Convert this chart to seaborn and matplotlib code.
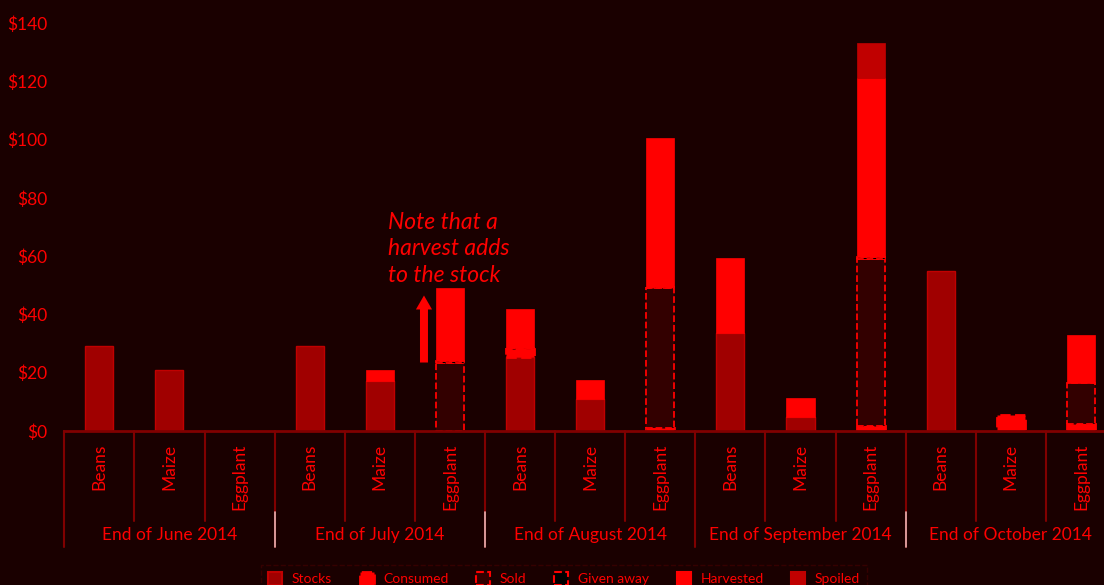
import numpy as np
import pandas as pd
import matplotlib.pyplot as plt
import seaborn as sns
from matplotlib.patches import Patch
from matplotlib.transforms import blended_transform_factory

# chart data (value in $ per crop, end of each month)
months = ["End of June 2014", "End of July 2014", "End of August 2014",
          "End of September 2014", "End of October 2014"]
crops = ["Beans", "Maize", "Eggplant"]

stocks = [29, 21, 0, 29, 17, 0, 25.5, 10.9, 0, 33.6, 4.9, 0, 55, 0, 0]
consumed = [0, 0, 0, 0, 0, 0, 2.6, 0, 1.2, 0, 0, 1.7, 0, 5.5, 2.4]
sold = [0, 0, 0, 0, 0, 23.2, 0, 0, 47.7, 0, 0, 57.2, 0, 0, 14.0]
given_away = [0, 0, 0, 0, 0, 0.7, 0.5, 0, 0.6, 0, 0, 0.9, 0, 0, 0]
harvested = [0, 0, 0, 0, 4, 25.2, 13.2, 6.6, 51, 25.8, 6.5, 61.4, 0, 0, 16.6]
spoiled = [0, 0, 0, 0, 0, 0, 0, 0, 0, 0, 0, 11.8, 0, 0, 0]

yticks = [0, 20, 40, 60, 80, 100, 120, 140]

BG = "#1a0000"
RED = "#ff0000"
AXIS = "#800000"

df = pd.DataFrame({
    "slot": np.arange(len(stocks)),
    "Stocks": stocks,
    "Consumed": consumed,
    "Sold": sold,
    "Given away": given_away,
    "Harvested": harvested,
    "Spoiled": spoiled,
})

styles = {
    "Stocks": dict(color="#a00000", edgecolor="#c00000", linewidth=1, linestyle="-"),
    "Consumed": dict(color=RED, edgecolor=RED, linewidth=2, linestyle="--"),
    "Sold": dict(color="#330000", edgecolor=RED, linewidth=1.3, linestyle="--"),
    "Given away": dict(color="#000000", edgecolor=RED, linewidth=1.3, linestyle="--"),
    "Harvested": dict(color=RED, edgecolor=RED, linewidth=0.5, linestyle="-"),
    "Spoiled": dict(color="#c00000", edgecolor="#c00000", linewidth=0.5, linestyle="-"),
}

sns.set_theme(style="white", rc={"figure.facecolor": BG, "axes.facecolor": BG,
                                 "savefig.facecolor": BG})
plt.rcParams["font.family"] = ["Lato", "DejaVu Sans"]

fig = plt.figure(figsize=(11.04, 5.85), dpi=100)
ax = fig.add_axes([64.3 / 1104, 154 / 585, 1051.7 / 1104, 408 / 585])

bottom = np.zeros(len(df))
for name, st in styles.items():
    vals = df[name].to_numpy(dtype=float)
    sns.barplot(data=df, x="slot", y=name, ax=ax, width=0.4, errorbar=None,
                saturation=1, bottom=bottom, **st)
    for bar, v in zip(ax.containers[-1], vals):
        if v == 0:
            bar.set_visible(False)
    bottom = bottom + vals

ax.set_xlim(-0.5, 14.5)
ax.set_ylim(0, 140)
ax.set_xticks([])
ax.set_xlabel("")
ax.set_ylabel("")
ax.set_yticks(yticks)
ax.set_yticklabels([f"${v}" for v in yticks])
ax.tick_params(axis="y", length=0, pad=12, labelcolor=RED, labelsize=12.5)
sns.despine(ax=ax, left=True)
ax.spines["bottom"].set_color(AXIS)
ax.spines["bottom"].set_linewidth(2)


def fy(px):
    # pixel row -> axes fraction
    return (431 - px) / 408


trans = blended_transform_factory(ax.transData, ax.transAxes)
for b in np.arange(-0.5, 15, 1):
    edge = (b + 0.5) % 3 == 0
    ax.plot([b, b], [0, fy(547) if edge else fy(521)], transform=trans,
            color=AXIS, lw=1.5, clip_on=False)
for b in (2.5, 5.5, 11.5):
    ax.plot([b, b], [fy(512), fy(547)], transform=trans, color="#e8b4b4",
            lw=1.2, clip_on=False)

for i in range(len(df)):
    ax.text(i, fy(444), crops[i % 3], rotation=90, ha="center", va="top",
            transform=trans, color=RED, fontsize=12.5)
for g, m in enumerate(months):
    ax.text(3 * g + 1, fy(535), m, ha="center", va="center", transform=trans,
            color=RED, fontsize=12.5)

# note + arrow
ax.text(4.12, 75.3, "Note that a\nharvest adds\nto the stock", ha="left", va="top",
        color=RED, fontsize=16.5, style="italic", linespacing=1.33)
ax.arrow(4.63, 23.5, 0, 23, width=0.114, head_width=0.23, head_length=4.8,
         length_includes_head=True, color=RED, lw=0)

handles = [Patch(facecolor=st["color"], edgecolor=st["edgecolor"],
                 linestyle=st["linestyle"], linewidth=max(st["linewidth"], 1.5))
           for st in styles.values()]
leg = fig.legend(handles, list(styles.keys()), loc="upper center",
                 bbox_to_anchor=(0.511, 1 - 558 / 585), ncol=6, fontsize=10,
                 handlelength=1.0, handleheight=1.1, handletextpad=0.7,
                 columnspacing=2.0, frameon=True, fancybox=False,
                 facecolor=BG, edgecolor="#3c0000", labelcolor=RED, borderpad=0.5)
leg.get_frame().set_linestyle("--")

fig.savefig("out.png", dpi=100, facecolor=BG)
